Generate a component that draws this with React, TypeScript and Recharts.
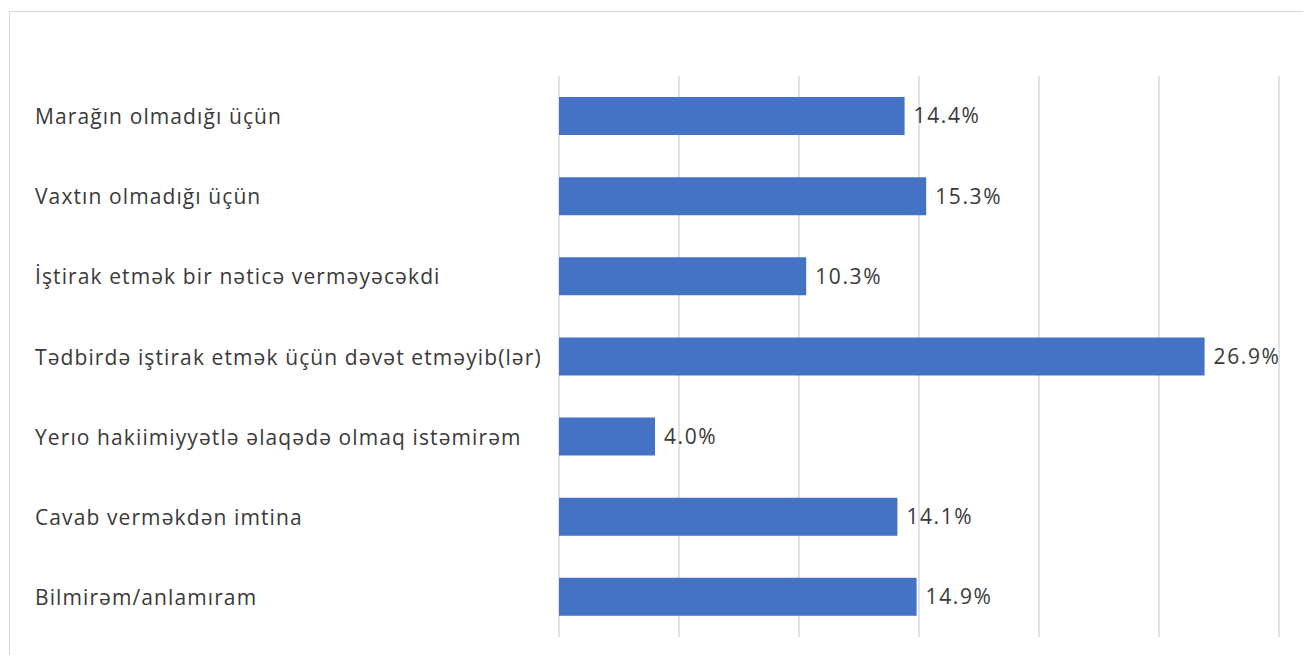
import React from 'react';
import { BarChart, Bar, XAxis, YAxis, CartesianGrid, LabelList } from 'recharts';

const categories = [
  'Marağın olmadığı üçün',
  'Vaxtın olmadığı üçün',
  'İştirak etmək bir nəticə verməyəcəkdi',
  'Tədbirdə iştirak etmək üçün dəvət etməyib(lər)',
  'Yerıo hakiimiyyətlə əlaqədə olmaq istəmirəm',
  'Cavab verməkdən imtina',
  'Bilmirəm/anlamıram',
];
const values = [14.4, 15.3, 10.3, 26.9, 4.0, 14.1, 14.9];
const xTicks = [0, 5, 10, 15, 20, 25, 30];

const data = categories.map((c, i) => ({ name: c, value: values[i] }));

const FONT = '"Open Sans", sans-serif';

const CatTick = (props: any) => {
  const { y, payload } = props;
  return (
    <text x={25} y={y} textAnchor="start" dominantBaseline="central" fill="#3a3a3a" fontSize={21} letterSpacing={1.1} fontFamily={FONT}>
      {payload.value}
    </text>
  );
};

export default function App() {
  return (
    <div style={{ marginTop: 3, marginLeft: 1, width: 1297, height: 660, border: '1px solid #d9d9d9', boxSizing: 'border-box', background: '#fff' }}>
      <BarChart
        width={1294}
        height={640}
        data={data}
        layout="vertical"
        margin={{ top: 64, right: 25, bottom: 15, left: 0 }}
        barCategoryGap={21}
      >
        <CartesianGrid horizontal={false} stroke="#d9d9d9" strokeWidth={1.5} />
        <XAxis type="number" domain={[0, 30]} ticks={xTicks} hide />
        <YAxis type="category" dataKey="name" width={549} tick={<CatTick />} axisLine={false} tickLine={false} interval={0} />
        <Bar dataKey="value" fill="#4472C4" isAnimationActive={false} barSize={38}>
          <LabelList
            dataKey="value"
            position="right"
            offset={9}
            formatter={(v: any) => `${Number(v).toFixed(1)}%`}
            style={{ fill: '#3a3a3a', fontSize: 21, letterSpacing: 1.6, fontFamily: FONT }}
          />
        </Bar>
      </BarChart>
    </div>
  );
}
